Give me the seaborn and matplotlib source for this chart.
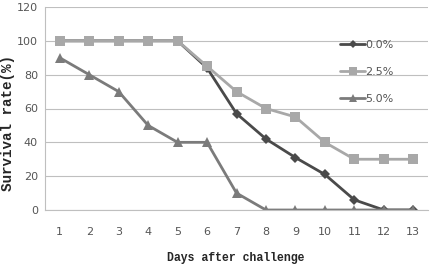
import seaborn as sns
import pandas as pd
import matplotlib.pyplot as plt

days = list(range(1, 14))
rate_00 = [100, 100, 100, 100, 100, 84, 57, 42, 31, 21, 6, 0, 0]
rate_25 = [100, 100, 100, 100, 100, 85, 70, 60, 55, 40, 30, 30, 30]
rate_50 = [90, 80, 70, 50, 40, 40, 10, 0, 0, 0, 0, 0, 0]
groups = ["0.0%", "2.5%", "5.0%"]

df = pd.DataFrame({
    "day": days * 3,
    "rate": rate_00 + rate_25 + rate_50,
    "group": [g for g in groups for _ in days],
})

sns.set_style("white")
plt.rcParams['font.family'] = ['DejaVu Sans']

fig = plt.figure(figsize=(4.32, 2.70), dpi=100)
ax = fig.add_axes([45 / 432, 60 / 270, 383 / 432, 203 / 270])

palette = {"0.0%": "#4a4a4a", "2.5%": "#a8a8a8", "5.0%": "#7b7b7b"}
markers = {"0.0%": "D", "2.5%": "s", "5.0%": "^"}
sizes = {"0.0%": 5, "2.5%": 7, "5.0%": 7}

# series order as in the original: 0.0 bottom, 5.0 on top
for g in groups:
    sub = df[df["group"] == g]
    sns.lineplot(data=sub, x="day", y="rate", color=palette[g], marker=markers[g],
                 markersize=sizes[g], markeredgewidth=0, linewidth=2, ax=ax, label=g,
                 legend=False)

ax.set_xlim(0.5, 13.5)
ax.set_ylim(0, 120)
ax.set_yticks(range(0, 121, 20))
ax.set_xticks(days)
ax.set_xticks([d + 0.5 for d in range(0, 14)], minor=True)
ax.yaxis.grid(True, color="#bfbfbf", linewidth=0.8)
ax.set_axisbelow(True)
for s in ["top", "right"]:
    ax.spines[s].set_visible(False)
for s in ["left", "bottom"]:
    ax.spines[s].set_color("#bfbfbf")
    ax.spines[s].set_linewidth(0.8)
ax.tick_params(axis="x", which="major", length=0, pad=12, labelsize=8, colors="#555555")
ax.tick_params(axis="x", which="minor", length=4, width=0.8, color="#bfbfbf", direction="out")
ax.tick_params(axis="y", length=0, pad=5, labelsize=8, colors="#555555")
ax.set_xlabel("")
ax.set_ylabel("")

handles, labels = ax.get_legend_handles_labels()
ax.legend(handles, labels, loc="upper left",
          bbox_to_anchor=(0.745, 0.885), frameon=False, fontsize=8,
          handlelength=2.2, handletextpad=0.0, labelspacing=1.5,
          labelcolor="#555555", markerscale=0.8)

fig.text(236 / 432, 1 - 258 / 270, "Days after challenge", ha="center", va="center",
         fontsize=8.3, family="Liberation Mono", fontweight="bold")
fig.text(8 / 432, 1 - 123 / 270, "Survival rate(%)", ha="center", va="center",
         rotation=90, fontsize=10.3, family="Liberation Mono", fontweight="bold")

plt.savefig("out.png", dpi=100)
